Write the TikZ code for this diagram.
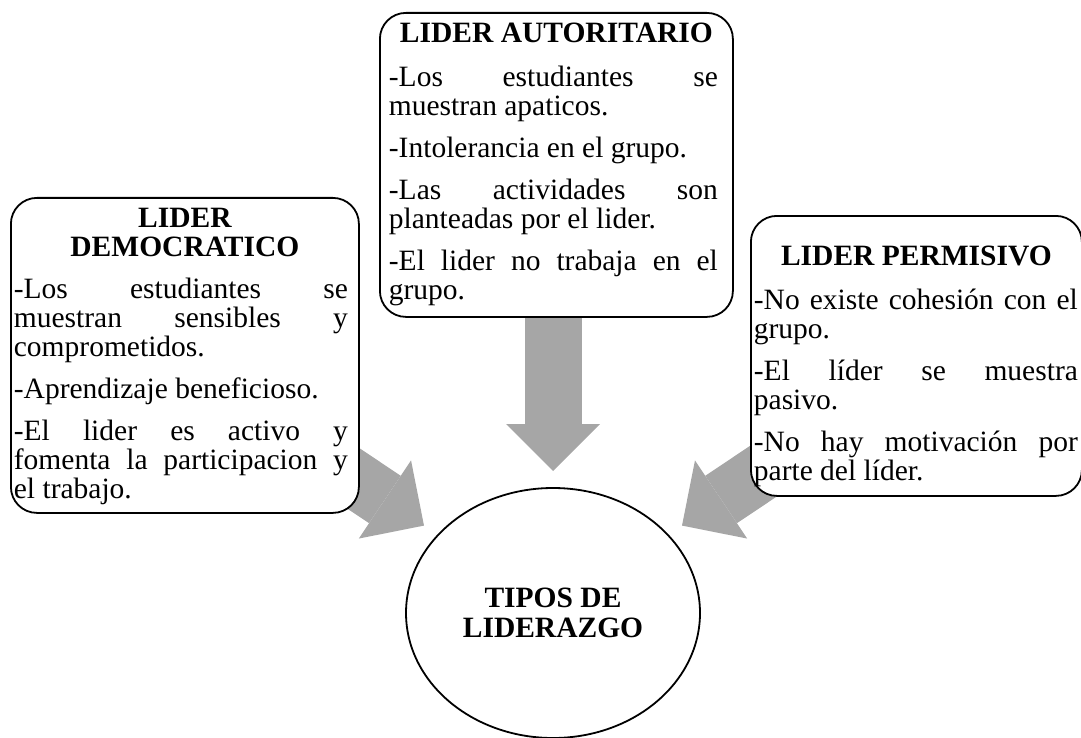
\documentclass[tikz,border=0pt]{standalone}
\usepackage{fontspec}
\setmainfont{Liberation Serif}
\usetikzlibrary{shapes.geometric,arrows.meta}
\pgfdeclarelayer{background}
\pgfsetlayers{background,main}
\definecolor{arrowgray}{RGB}{166,166,166}
% #1 top pad, #2 height, #3 width, #4 left skip, #5 right skip, #6 heading, #7 body
\newcommand{\boxbody}[7]{%
  \begin{minipage}[t][#2][t]{#3}%
    \hyphenpenalty=10000 \exhyphenpenalty=10000 \tolerance=10000
    \spaceskip=.25em plus 4em minus .05em
    \vspace*{#1}%
    {\centering\bfseries\strut #6\par}%
    \setlength{\parskip}{13pt}%
    \leftskip=#4 \rightskip=#5
    #7%
  \end{minipage}}
\tikzset{
  txtbox/.style={draw, line width=1.8pt, rounded corners=26pt, fill=white,
    inner xsep=3pt, inner ysep=0pt, anchor=north west,
    font=\fontsize{29.5}{29}\selectfont},
  blockarrow/.style={line width=57pt, draw=arrowgray,
    -{Triangle[length=47pt,width=94pt,line width=0pt]}},
  hub/.style={ellipse, draw, line width=1.8pt, fill=white,
    minimum width=294pt, minimum height=250pt, inner sep=0pt, align=center,
    font=\fontsize{29.5}{30}\selectfont\bfseries}
}
\begin{document}
\begin{tikzpicture}[x=1pt,y=-1pt]
\useasboundingbox (0,0) rectangle (1081,738);

\node[txtbox] (demo) at (10,197) {\boxbody{9.7pt}{315pt}{342pt}{0pt}{8pt}{LIDER\\DEMOCRATICO}{%
-Los estudiantes se\linebreak muestran sensibles y\linebreak comprometidos.\par
-Aprendizaje beneficioso.\par
-El lider es activo y\linebreak fomenta la participacion y\linebreak el trabajo.\par}};

\node[txtbox] (auto) at (379,12) {\boxbody{9.7pt}{304pt}{347pt}{6pt}{12pt}{LIDER AUTORITARIO}{%
-Los estudiantes se\linebreak muestran apaticos.\par
-Intolerancia en el grupo.\par
-Las actividades son\linebreak planteadas por el lider.\par
-El lider no trabaja en el\linebreak grupo.\par}};

\node[txtbox] (perm) at (750,215) {\boxbody{29.7pt}{280pt}{325pt}{0pt}{1pt}{LIDER PERMISIVO}{%
-No existe cohesión con el\linebreak grupo.\par
-El líder se muestra\linebreak pasivo.\par
-No hay motivación por\linebreak parte del líder.\par}};

\node[hub] (tipos) at (553,613) {TIPOS DE\\LIDERAZGO};

\coordinate (ct) at (553,471);
\coordinate (ls) at (260,416);
\coordinate (lt) at (424,525.6);
\coordinate (rs) at (846,416);
\coordinate (rt) at (682,525.6);

\begin{pgfonlayer}{background}
\draw[blockarrow] (auto.south -| ct) -- (ct);
\draw[blockarrow] (ls) -- (lt);
\draw[blockarrow] (rs) -- (rt);
\end{pgfonlayer}
\end{tikzpicture}
\end{document}
